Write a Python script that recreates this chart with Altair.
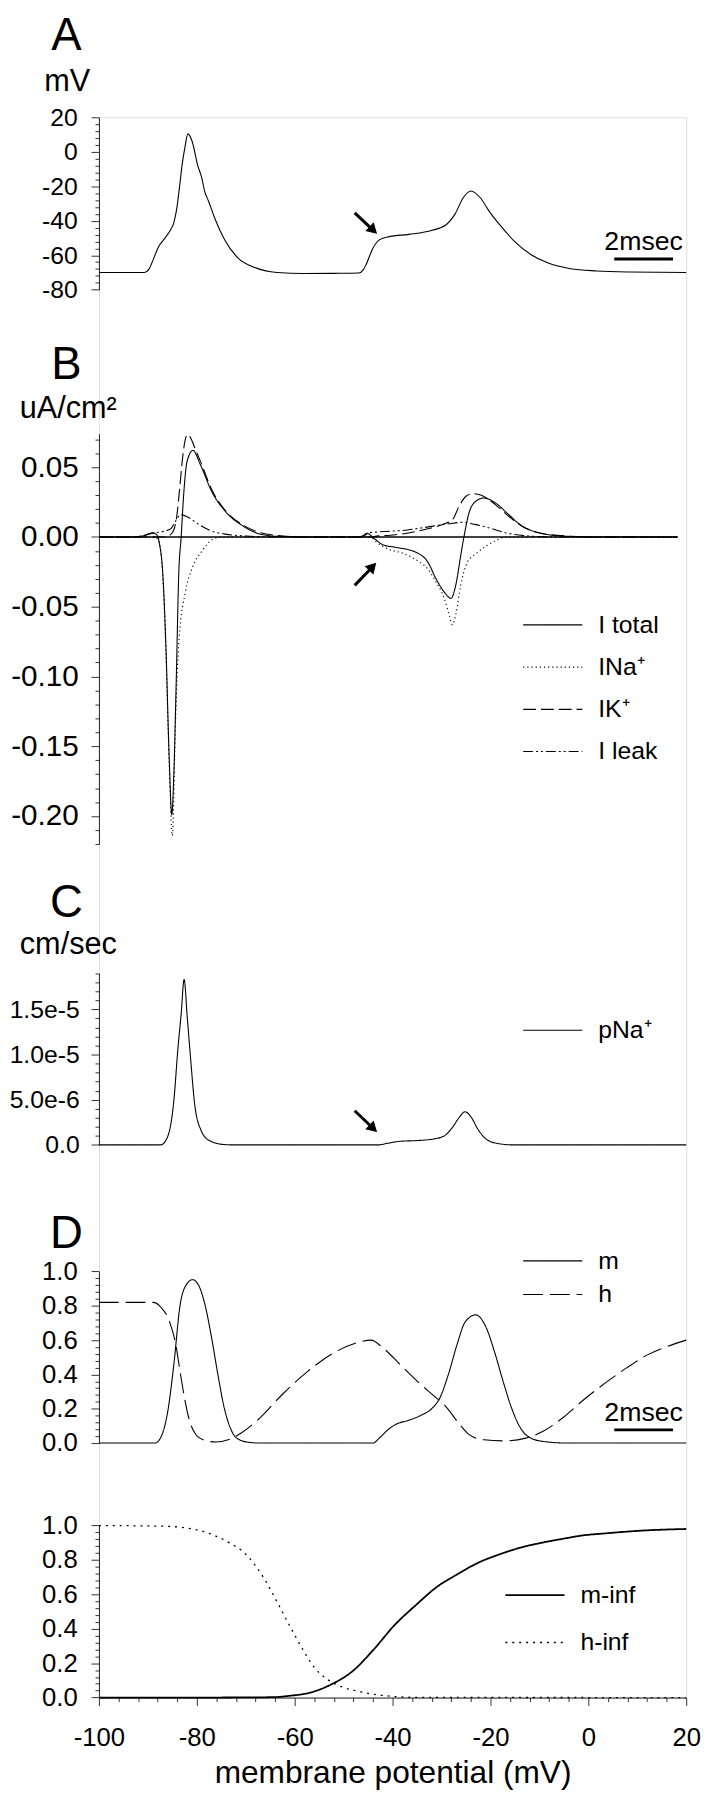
import altair as alt
import pandas as pd

FONT = "Liberation Sans"

# ---------------- Panel A : membrane potential (mV) vs time (ms)
A_T = [0, 1.55, 1.7, 1.87, 2.03, 2.2, 2.43, 2.54, 2.65, 2.76, 2.84, 2.92, 3.03, 3.18, 3.36, 3.5, 3.6, 3.73,
       3.95, 4.28, 4.73, 5.29, 6.07, 6.97, 8.0, 8.85, 9.0, 9.1, 9.33, 9.55, 9.89, 10.56, 11.35, 11.8, 12.13,
       12.41, 12.67, 12.98, 13.31, 13.71, 14.16, 14.72, 15.28, 16.06, 16.96, 18.08, 20.0]
A_V = [-70, -70, -68.2, -61.5, -55, -51.1, -45.5, -41.7, -33, -18, -6.6, 1.8, 10.4, 5.7, -7.7, -15, -23, -28.5,
       -38.8, -51, -61.5, -67, -70, -70.6, -70.5, -70.3, -68.5, -65.3, -55.9, -51.1, -49.2, -47.9, -45.5, -42.6, -36,
       -26.5, -22.7, -26.5, -35, -43.6, -52.1, -59.7, -64.4, -67.8, -69.1, -69.7, -70]

# ---------------- Panel B : currents (uA/cm2)
B_NAMES = ["I total", "INa⁺", "IK⁺", "I leak"]
B_TOT_T = [0, 1.2, 1.5, 1.83, 1.97, 2.07, 2.17, 2.28, 2.39, 2.48, 2.55, 2.63, 2.72, 2.8, 2.87, 3.0, 3.2, 3.46,
           3.84, 4.3, 4.91, 5.5, 6.2, 7.0, 8.8, 9.0, 9.12, 9.4, 9.69, 10.13, 10.81, 11.2, 11.48, 11.76, 11.99,
           12.15, 12.32, 12.43, 12.6, 12.83, 13.11, 13.5, 13.95, 14.4, 14.96, 15.75, 16.64, 19.7]
B_TOT_V = [0, 0, 0.0008, 0.003, 0.0015, -0.006, -0.025, -0.078, -0.157, -0.199, -0.17, -0.105, -0.025, 0, 0.0255,
           0.054, 0.062, 0.0515, 0.0326, 0.0184, 0.0078, 0.002, 0.0003, 0, 0, 0.001, 0.0026, -0.0016, -0.0058,
           -0.0075, -0.0111, -0.018, -0.03, -0.0395, -0.044, -0.0347, -0.0134, 0, 0.017, 0.0255, 0.0279, 0.0244,
           0.0161, 0.0079, 0.0031, 0.0007, 0, 0]
B_NA_T = [0, 1.9, 2.05, 2.17, 2.28, 2.39, 2.5, 2.61, 2.73, 2.95, 3.18, 3.51, 3.85, 4.2, 9.24, 9.46, 9.8, 10.36,
          10.92, 11.2, 11.48, 11.76, 11.93, 12.04, 12.15, 12.32, 12.55, 12.83, 13.16, 13.5, 13.84, 19.7]
B_NA_V = [0, 0, -0.004, -0.027, -0.082, -0.16, -0.214, -0.13, -0.073, -0.039, -0.022, -0.01, -0.002, 0, 0, -0.004,
          -0.0083, -0.0118, -0.018, -0.0229, -0.0324, -0.044, -0.0559, -0.063, -0.0559, -0.0347, -0.018, -0.0122,
          -0.0069, -0.0028, 0, 0]
B_K_T = [0, 2.3, 2.4, 2.55, 2.65, 2.75, 2.85, 2.94, 3.02, 3.12, 3.28, 3.46, 3.84, 4.3, 4.91, 5.5, 6.2, 7.0, 9.3,
         9.5, 9.91, 11.03, 11.7, 12.04, 12.26, 12.49, 12.72, 13.0, 13.5, 13.95, 14.4, 15.07, 16.08, 17.0, 19.7]
B_K_V = [0, 0, 0.001, 0.005, 0.015, 0.035, 0.057, 0.07, 0.0735, 0.071, 0.063, 0.054, 0.034, 0.019, 0.0085, 0.003,
         0.0008, 0, 0, 0.0008, 0.0012, 0.005, 0.009, 0.0124, 0.0218, 0.029, 0.031, 0.03, 0.0232, 0.0149, 0.0079,
         0.0026, 0.0005, 0, 0]
B_LEAK_T = [0, 1.2, 1.5, 1.9, 2.2, 2.45, 2.6, 2.78, 3.0, 3.4, 3.8, 4.3, 5.0, 6.0, 8.95, 9.2, 9.5, 10.5, 11.03,
            11.93, 12.4, 12.8, 13.27, 13.84, 14.63, 15.5, 19.7]
B_LEAK_V = [0, 0, 0.001, 0.003, 0.004, 0.006, 0.011, 0.016, 0.0145, 0.009, 0.0045, 0.002, 0.0007, 0, 0, 0.003,
            0.0036, 0.005, 0.0066, 0.0095, 0.0105, 0.009, 0.0066, 0.003, 0.0007, 0, 0]
B_ZERO_T = [0, 19.7]

# ---------------- Panel C : Na permeability (cm/sec)
C_NAME = ["pNa⁺"]
C_T = [0, 2.1, 2.33, 2.55, 2.69, 2.8, 2.9, 3.01, 3.12, 3.26, 3.48, 3.76, 4.26, 4.6, 9.5, 9.83, 10.26, 10.83,
       11.4, 11.76, 12.04, 12.26, 12.47, 12.69, 12.9, 13.18, 13.55, 14.11, 20.0]
C_V = [0, 0, 0.84e-6, 4.87e-6, 10.7e-6, 14.5e-6, 18.3e-6, 14.0e-6, 9.6e-6, 4.5e-6, 1.6e-6, 0.48e-6, 0.04e-6, 0,
       0, 0.18e-6, 0.40e-6, 0.48e-6, 0.66e-6, 1.0e-6, 1.94e-6, 3.0e-6, 3.66e-6, 3.0e-6, 1.76e-6, 0.66e-6,
       0.18e-6, 0, 0]

# ---------------- Panel D : gating variables m, h vs time
D_NAMES = ["m", "h"]
D_M_T = [0, 1.91, 2.12, 2.33, 2.55, 2.76, 2.98, 3.19, 3.41, 3.62, 3.84, 4.05, 4.26, 4.48, 4.69, 5.12, 5.5, 9.33,
         9.55, 9.83, 10.12, 10.55, 10.97, 11.33, 11.62, 11.9, 12.19, 12.47, 12.83, 13.18, 13.47, 13.76, 14.04,
         14.33, 14.62, 15.11, 15.97, 20.0]
D_M_V = [0, 0, 0.038, 0.171, 0.457, 0.8, 0.924, 0.952, 0.914, 0.8, 0.61, 0.4, 0.21, 0.086, 0.029, 0.004, 0, 0,
         0.029, 0.076, 0.11, 0.133, 0.162, 0.2, 0.267, 0.4, 0.571, 0.705, 0.747, 0.676, 0.533, 0.362, 0.21, 0.095,
         0.038, 0.01, 0, 0]
D_H_T = [0, 1.84, 2.12, 2.41, 2.62, 2.76, 2.91, 3.05, 3.27, 3.55, 3.98, 4.4, 4.83, 5.4, 6.26, 7.12, 7.98, 8.83,
         9.26, 9.69, 10.26, 10.83, 11.4, 11.83, 12.26, 12.62, 13.11, 13.83, 14.54, 15.11, 15.83, 16.54, 17.26,
         17.97, 18.68, 19.4, 20.0]
D_H_V = [0.82, 0.82, 0.79, 0.705, 0.571, 0.419, 0.267, 0.152, 0.057, 0.019, 0.006, 0.019, 0.057, 0.133, 0.286,
         0.419, 0.524, 0.587, 0.6, 0.552, 0.457, 0.362, 0.276, 0.21, 0.114, 0.048, 0.019, 0.013, 0.029, 0.067,
         0.152, 0.257, 0.352, 0.438, 0.514, 0.566, 0.6]

# ---------------- Panel E : steady-state m-inf, h-inf vs membrane potential
E_NAMES = ["m-inf", "h-inf"]
E_MINF_X = [-100, -80, -64.5, -61.1, -56.8, -52.5, -48.2, -43.9, -39.6, -35.3, -31, -26.7, -22.4, -18.1, -13.8,
            -9.5, -5.2, -1.0, 3.3, 7.6, 11.9, 16.2, 20]
E_MINF_Y = [0, 0, 0.002, 0.01, 0.029, 0.077, 0.153, 0.278, 0.421, 0.536, 0.642, 0.718, 0.785, 0.833, 0.872, 0.9,
            0.923, 0.943, 0.954, 0.964, 0.972, 0.977, 0.98]
E_HINF_X = [-100, -86.8, -82.5, -78.3, -74, -69.7, -66.2, -63.6, -61.1, -58.5, -55.9, -53.3, -50.8, -47.3, -43.9,
            -39.6, -35, 20]
E_HINF_Y = [1.0, 0.996, 0.987, 0.962, 0.91, 0.824, 0.69, 0.556, 0.421, 0.287, 0.172, 0.105, 0.067, 0.038, 0.019,
            0.006, 0.001, 0]

# ---------------- annotations
SCALEBAR_T = [17.55, 19.55]
SCALEBAR_TEXT = ["2msec"]
A_BAR_V = -62.2
D_BAR_V = 0.077
A_ARROW_T = [8.71, 9.30]
A_ARROW_V = [-35.4, -44.8]
B_ARROW_T = [8.71, 9.28]
B_ARROW_V = [-0.0347, -0.0222]
C_ARROW_T = [8.71, 9.30]
C_ARROW_V = [3.78e-6, 1.95e-6]
PANEL_LETTERS = ["A", "B", "C", "D"]
UNITS = ["mV", "uA/cm²", "cm/sec"]

# ---------------- geometry
W = 594
H = 1598.4
R_A = [174.4, 0]
R_B = [735.0, 320.0]
R_C = [1039.4, 865.7]
R_D = [1341.0, 1167.4]
R_E = [1598.4, 1424.4]

XT = alt.Scale(domain=[0, 20], nice=False, zero=False)


def ys(domain, rng):
    return alt.Scale(domain=domain, range=rng, nice=False, zero=False)


def yaxis(values, major, lab, size=24, pad=14):
    return alt.Axis(orient="left", values=values, title=None, grid=False,
                    labelExpr=f"({major}) ? ({lab}) : ''",
                    tickSize={"condition": {"test": major, "value": 8}, "value": 4},
                    labelFontSize=size, labelFont=FONT, labelPadding=pad, labelOverlap=False,
                    labelFlush=False, labelColor="black", tickColor="#333", domainColor="#222",
                    tickWidth=1, domainWidth=1)


def leg(x, y, pad):
    return alt.Legend(orient="none", legendX=x, legendY=y, title=None, padding=0,
                      symbolType="M-2.6,0H2.6", symbolSize=529, symbolStrokeWidth=1.2,
                      symbolStrokeColor="black", labelFont=FONT, labelFontSize=25, labelColor="black",
                      labelOffset=33.5, rowPadding=pad, symbolOffset=0)


def series_df(names, ts, vs):
    rows = []
    for n, t, v in zip(names, ts, vs):
        assert len(t) == len(v), n
        rows += [{"s": n, "t": a, "v": b} for a, b in zip(t, v)]
    return pd.DataFrame(rows)


def text_layer(txt, x, y, size):
    return alt.Chart(pd.DataFrame({"label": txt})).mark_text(
        font=FONT, fontSize=size, align="center", baseline="alphabetic", color="black"
    ).encode(x=alt.value(x), y=alt.value(y), text="label:N")


def arrow(ts, vs, yscale, angle):
    df = pd.DataFrame({"t": ts, "v": vs})
    shaft = alt.Chart(df).mark_line(color="black", strokeWidth=3).encode(
        x=alt.X("t:Q", scale=XT, axis=None), y=alt.Y("v:Q", scale=yscale, axis=None))
    head = alt.Chart(pd.DataFrame({"t": ts[1:], "v": vs[1:]})).mark_point(
        shape="triangle", filled=True, fill="black", stroke="black", strokeWidth=1, size=110,
        angle=angle, opacity=1).encode(
        x=alt.X("t:Q", scale=XT, axis=None), y=alt.Y("v:Q", scale=yscale, axis=None))
    return [shaft, head]


def scalebar(v_bar, v_text, yscale):
    bar = alt.Chart(pd.DataFrame({"t0": [SCALEBAR_T[0]], "t1": [SCALEBAR_T[1]], "v": [v_bar]})).mark_rule(
        color="black", strokeWidth=3).encode(
        x=alt.X("t0:Q", scale=XT, axis=None), x2="t1:Q", y=alt.Y("v:Q", scale=yscale, axis=None))
    txt = alt.Chart(pd.DataFrame({"t": [(SCALEBAR_T[0] + SCALEBAR_T[1]) / 2], "v": [v_text],
                                  "label": SCALEBAR_TEXT})).mark_text(
        font=FONT, fontSize=27, baseline="alphabetic", color="black").encode(
        x=alt.X("t:Q", scale=XT, axis=None), y=alt.Y("v:Q", scale=yscale, axis=None), text="label:N")
    return [bar, txt]


layers = []

# ---- A
yA = ys([-80, 20], R_A)
ax_A = yaxis(list(range(-80, 21, 4)), "abs(datum.value % 20) < 0.01",
             "(datum.value < 0 ? '-' : '') + format(abs(datum.value), 'd')", size=25)
layers.append(alt.Chart(pd.DataFrame({"t": A_T, "v": A_V})).mark_line(
    color="black", strokeWidth=1.1, interpolate="monotone").encode(
    x=alt.X("t:Q", scale=XT, axis=None), y=alt.Y("v:Q", scale=yA, axis=ax_A)))
layers += scalebar(A_BAR_V, -57.0, yA)
layers += arrow(A_ARROW_T, A_ARROW_V, yA, 133.6)
layers.append(text_layer([PANEL_LETTERS[0]], -33, -68.3, 46))
layers.append(text_layer([UNITS[0]], -32, -26.3, 31))

# ---- B
yB = ys([-0.22, 0.074], R_B)
ax_B = yaxis([round(k * 0.01, 2) for k in range(-22, 8)],
             "abs(datum.value * 20 - round(datum.value * 20)) < 0.001",
             "(datum.value < -0.0001 ? '-' : '') + format(abs(datum.value), '.2f')", size=30, pad=13)
dfB = series_df(B_NAMES, [B_TOT_T, B_NA_T, B_K_T, B_LEAK_T], [B_TOT_V, B_NA_V, B_K_V, B_LEAK_V])
layers.append(alt.Chart(pd.DataFrame({"t": B_ZERO_T, "v": [0, 0]})).mark_line(
    color="black", strokeWidth=1.6).encode(
    x=alt.X("t:Q", scale=XT, axis=None), y=alt.Y("v:Q", scale=yB, axis=ax_B)))
layers.append(alt.Chart(dfB).mark_line(color="black", strokeWidth=1.1, interpolate="monotone").encode(
    x=alt.X("t:Q", scale=XT, axis=None), y=alt.Y("v:Q", scale=yB, axis=None),
    strokeDash=alt.StrokeDash("s:N", scale=alt.Scale(domain=B_NAMES, range=[[1, 0], [1.2, 3], [13, 5],
                                                                            [10, 3, 2, 3, 2, 3]]),
                              legend=leg(446.5, 500.9, 16.7)),
    order="t:Q"))
layers += arrow(B_ARROW_T, B_ARROW_V, yB, 43.5)
layers.append(text_layer([PANEL_LETTERS[1]], -33, 264.7, 46))
layers.append(text_layer([UNITS[1]], -31, 303.7, 31))

# ---- C
yC = ys([0, 1.9e-5], R_C)
ax_C = yaxis([k * 1e-6 for k in range(0, 20)],
             "abs(datum.value * 200000 - round(datum.value * 200000)) < 0.001",
             "datum.value < 1e-9 ? '0.0' : (datum.value < 9e-6 ? format(datum.value * 1e6, '.1f') + 'e-6' : "
             "format(datum.value * 1e5, '.1f') + 'e-5')", size=25, pad=12)
dfC = series_df(C_NAME, [C_T], [C_V])
layers.append(alt.Chart(dfC).mark_line(color="black", strokeWidth=1.1, interpolate="monotone").encode(
    x=alt.X("t:Q", scale=XT, axis=None), y=alt.Y("v:Q", scale=yC, axis=ax_C),
    strokeDash=alt.StrokeDash("s:N", scale=alt.Scale(domain=C_NAME, range=[[1, 0]]),
                              legend=leg(446.5, 910.9, 10))))
layers += arrow(C_ARROW_T, C_ARROW_V, yC, 133.6)
layers.append(text_layer([PANEL_LETTERS[2]], -33, 808.7, 46))
layers.append(text_layer([UNITS[2]], -31, 846.7, 31))

# ---- D
yD = ys([0, 1], R_D)
frac_major = "abs(datum.value * 5 - round(datum.value * 5)) < 0.001"
ax_D = yaxis([round(k * 0.04, 2) for k in range(0, 26)], frac_major, "format(datum.value, '.1f')", size=26)
dfD = series_df(D_NAMES, [D_M_T, D_H_T], [D_M_V, D_H_V])
layers.append(alt.Chart(dfD).mark_line(color="black", strokeWidth=1.1, interpolate="monotone").encode(
    x=alt.X("t:Q", scale=XT, axis=None), y=alt.Y("v:Q", scale=yD, axis=ax_D),
    strokeDash=alt.StrokeDash("s:N", scale=alt.Scale(domain=D_NAMES, range=[[1, 0], [20, 7]]),
                              legend=leg(446.5, 1144.2, 8)),
    order="t:Q"))
layers += scalebar(D_BAR_V, 0.13, yD)
layers.append(text_layer([PANEL_LETTERS[3]], -33, 1143.7, 46))

# ---- E
yE = ys([0, 1], R_E)
ax_E = yaxis([round(k * 0.04, 2) for k in range(0, 26)], frac_major, "format(datum.value, '.1f')", size=26)
xE = alt.Scale(domain=[-100, 20], nice=False, zero=False)
ax_Ex = alt.Axis(orient="bottom", values=list(range(-100, 21, 4)), title="membrane potential (mV)",
                 labelExpr="(abs(datum.value % 20) < 0.01) ? ((datum.value < 0 ? '-' : '') + "
                           "format(abs(datum.value), 'd')) : ''",
                 tickSize={"condition": {"test": "abs(datum.value % 20) < 0.01", "value": 8}, "value": 4},
                 labelFontSize=26, labelFont=FONT, labelPadding=19, labelOverlap=False, labelFlush=False,
                 labelColor="black", tickColor="#333", domainColor="#222", grid=False,
                 titleFont=FONT, titleFontSize=32, titleFontWeight="normal", titleColor="black",
                 titlePadding=8)
dfE = series_df(E_NAMES, [E_MINF_X, E_HINF_X], [E_MINF_Y, E_HINF_Y])
layers.append(alt.Chart(dfE).mark_line(color="black", interpolate="monotone").encode(
    x=alt.X("t:Q", scale=xE, axis=ax_Ex), y=alt.Y("v:Q", scale=yE, axis=ax_E),
    strokeDash=alt.StrokeDash("s:N", scale=alt.Scale(domain=E_NAMES, range=[[1, 0], [2, 5]]),
                              legend=leg(428.5, 1482.2, 22)),
    strokeWidth=alt.StrokeWidth("s:N", scale=alt.Scale(domain=E_NAMES, range=[1.8, 1.3]), legend=None),
    order="t:Q"))

chart = alt.layer(*layers).resolve_scale(
    x="independent", y="independent", strokeDash="independent", strokeWidth="independent"
).resolve_axis(x="independent", y="independent").resolve_legend(
    strokeDash="independent", strokeWidth="independent"
).properties(
    width=W, height=H,
    autosize=alt.AutoSizeParams(type="none"),
    padding={"left": 92, "top": 100.3, "right": 18, "bottom": 90},
).configure_view(stroke=None).configure(background="white")

chart.save("out.html", embed_options={"renderer": "svg", "actions": False})
